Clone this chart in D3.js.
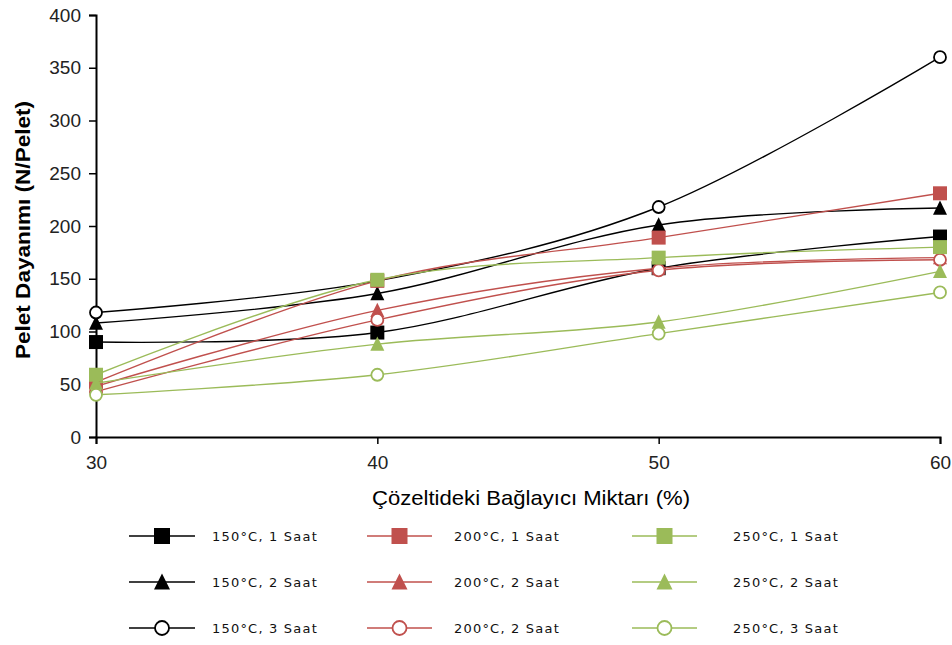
<!DOCTYPE html>
<html><head><meta charset="utf-8">
<script src="https://cdn.jsdelivr.net/npm/d3@7"></script>
<style>
body{margin:0;background:#fff;}
svg{display:block;}
</style></head>
<body>
<svg id="chart" width="952" height="645"></svg>
<script>
// ---- data ----
const xValues = [30, 40, 50, 60];
const yTicks = [0, 50, 100, 150, 200, 250, 300, 350, 400];
const seriesNames = [
  "150°C, 1 Saat", "150°C, 2 Saat", "150°C, 3 Saat",
  "200°C, 1 Saat", "200°C, 2 Saat", "200°C, 2 Saat",
  "250°C, 1 Saat", "250°C, 2 Saat", "250°C, 3 Saat"
];
const s150_1 = [90, 99, 160, 190];
const s150_2 = [108, 136, 201, 217];
const s150_3 = [118, 148, 218, 360];
const s200_1 = [52, 148, 189, 231];
const s200_2 = [48, 120, 160, 170];
const s200_3 = [43, 111, 158, 168];
const s250_1 = [59, 149, 170, 180];
const s250_2 = [51, 88, 109, 157];
const s250_3 = [40, 59, 98, 137];
const seriesValues = [s150_1, s150_2, s150_3, s200_1, s200_2, s200_3, s250_1, s250_2, s250_3];
const seriesColors = ["#000000","#000000","#000000","#c0504d","#c0504d","#c0504d","#9bbb59","#9bbb59","#9bbb59"];
const seriesMarkers = ["square","triangle","circle","square","triangle","circle","square","triangle","circle"];
const xTitle = "Çözeltideki Bağlayıcı Miktarı (%)";
const yTitle = "Pelet Dayanımı (N/Pelet)";

(function () {
// ---- layout ----
const svg = d3.select("#chart");
const pl = 96, pr = 940, pt = 15, pb = 437;
const x = d3.scaleLinear().domain([30, 60]).range([pl, pr]);
const y = d3.scaleLinear().domain([0, 400]).range([pb, pt]);

// axes
const yAxis = svg.append("g").attr("transform", `translate(${pl},0)`)
  .call(d3.axisLeft(y).tickValues(yTicks).tickSize(7).tickPadding(8));
const xAxis = svg.append("g").attr("transform", `translate(0,${pb})`)
  .call(d3.axisBottom(x).tickValues(xValues).tickSize(7).tickPadding(12));
[yAxis, xAxis].forEach(a => {
  a.select(".domain").attr("stroke", "#000").attr("stroke-width", 2);
  a.selectAll(".tick line").attr("stroke", "#000").attr("stroke-width", 1.5);
  a.selectAll(".tick text").attr("font-family", "Liberation Sans, Arial, sans-serif")
    .attr("font-size", 19).attr("fill", "#222");
});

// titles
svg.append("text")
  .attr("transform", `translate(23,${230}) rotate(-90)`)
  .attr("text-anchor", "middle").attr("dominant-baseline", "central")
  .attr("font-family", "Liberation Sans, Arial, sans-serif")
  .attr("font-weight", "bold").attr("font-size", 20).attr("fill", "#000")
  .attr("textLength", 258).attr("lengthAdjust", "spacingAndGlyphs")
  .text(yTitle);
svg.append("text")
  .attr("x", 531).attr("y", 497)
  .attr("text-anchor", "middle").attr("dominant-baseline", "central")
  .attr("font-family", "Liberation Sans, Arial, sans-serif")
  .attr("font-size", 21).attr("fill", "#000")
  .attr("textLength", 318).attr("lengthAdjust", "spacingAndGlyphs")
  .text(xTitle);

// marker drawer
function drawMarker(g, type, cx, cy, color, s) {
  if (type === "square") {
    g.append("rect").attr("x", cx - s/2).attr("y", cy - s/2)
      .attr("width", s).attr("height", s).attr("fill", color);
  } else if (type === "triangle") {
    const h = s * 0.95;
    g.append("path")
      .attr("d", `M${cx},${cy - h/2 - 1}L${cx + s/2},${cy + h/2}L${cx - s/2},${cy + h/2}Z`)
      .attr("fill", color);
  } else {
    g.append("circle").attr("cx", cx).attr("cy", cy).attr("r", s/2 - 1)
      .attr("fill", "#fff").attr("stroke", color).attr("stroke-width", 1.8);
  }
}

// lines
const line = d3.line().x(d => x(d[0])).y(d => y(d[1])).curve(d3.curveCardinal.tension(0));
const plot = svg.append("g");
seriesValues.forEach((vals, i) => {
  const pts = xValues.map((xv, j) => [xv, vals[j]]);
  const g = plot.append("g");
  g.append("path").datum(pts).attr("d", line)
    .attr("fill", "none").attr("stroke", seriesColors[i]).attr("stroke-width", 1.4);
  pts.forEach(p => drawMarker(g, seriesMarkers[i], x(p[0]), y(p[1]), seriesColors[i], 14));
});

// legend
const colLine = [[129, 195], [367, 432], [632, 697]];
const colText = [212, 454, 733];
const rowY = [536, 582, 628];
const legend = svg.append("g");
seriesNames.forEach((name, i) => {
  const col = Math.floor(i / 3), row = i % 3;
  const g = legend.append("g");
  const [x0, x1] = colLine[col];
  const cy = rowY[row];
  g.append("line").attr("x1", x0).attr("x2", x1).attr("y1", cy).attr("y2", cy)
    .attr("stroke", seriesColors[i]).attr("stroke-width", 1.6);
  drawMarker(g, seriesMarkers[i], (x0 + x1) / 2, cy, seriesColors[i], 16);
  g.append("text").attr("x", colText[col]).attr("y", cy)
    .attr("dominant-baseline", "central")
    .attr("font-family", "DejaVu Sans, Verdana, sans-serif")
    .attr("font-size", 13).attr("letter-spacing", 1.2).attr("fill", "#111")
    .text(name);
});
})();
</script>
</body></html>
